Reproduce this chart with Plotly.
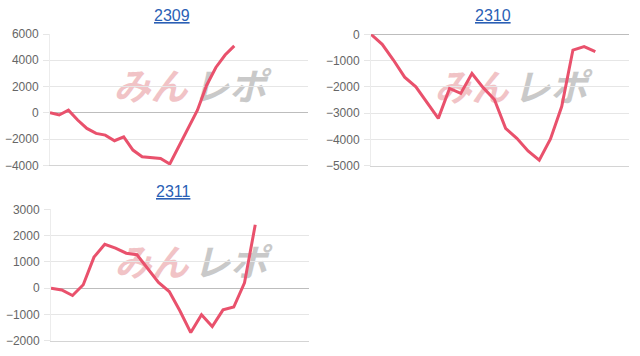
import plotly.graph_objects as go

titles = ["2309", "2310", "2311"]
s2309 = [0, -170, 200, -550, -1190, -1570, -1700, -2130, -1830, -2840, -3350,
         -3400, -3480, -3900, -2550, -1250, 200, 2100, 3450, 4400, 5100]
s2310 = [0, -380, -980, -1630, -2000, -2580, -3200, -2060, -2250, -1490, -2030,
         -2480, -3580, -3960, -4440, -4790, -3980, -2750, -600, -470, -660]
s2311 = [0, -70, -280, 130, 1180, 1670, 1520, 1330, 1270, 760, 220, -130,
         -870, -1690, -1015, -1460, -825, -720, 200, 2410]
series = [s2309, s2310, s2311]
x_max = [28, 23, 24]
y_ranges = [(-4000, 6000), (-5000, 0), (-2000, 3000)]
y_dtick = [2000, 1000, 1000]

W, H = 640, 356
# pixel boxes of plot areas: (left, right, top, bottom)
boxes = [(50, 308, 34, 165.3), (371, 629, 34.3, 165.7), (51, 309, 209.3, 340.7)]
title_pos = [(172, 15.5), (493, 15.5), (173, 191.5)]

LINE = "#e9516c"
GRID = "#e6e6e6"
FONT = "Liberation Sans"

fig = go.Figure()
shapes = []
annotations = []
for i, (vals, box) in enumerate(zip(series, boxes)):
    n = i + 1
    xa = "x" if n == 1 else f"x{n}"
    ya = "y" if n == 1 else f"y{n}"
    left, right, top, bottom = box
    fig.add_trace(go.Scatter(
        x=list(range(len(vals))), y=vals, mode="lines",
        line=dict(color=LINE, width=3), xaxis=xa, yaxis=ya,
        showlegend=False, hoverinfo="skip"))
    xkey = "xaxis" if n == 1 else f"xaxis{n}"
    ykey = "yaxis" if n == 1 else f"yaxis{n}"
    fig.layout[xkey] = dict(
        domain=[left / W, right / W], range=[0, x_max[i]], anchor=ya,
        showticklabels=False, showgrid=False, zeroline=False, automargin=False,
        showline=True, linecolor="#d4d4d4", linewidth=1, ticks="", fixedrange=True)
    fig.layout[ykey] = dict(
        domain=[1 - bottom / H, 1 - top / H], range=list(y_ranges[i]), anchor=xa,
        dtick=y_dtick[i], tick0=0, showgrid=True, gridcolor=GRID, gridwidth=1,
        zeroline=True, zerolinecolor="#bdbdbd", zerolinewidth=1, automargin=False,
        showline=True, linecolor="#ececec", linewidth=1,
        ticks="outside", ticklen=6, tickcolor=GRID, ticklabelstandoff=2,
        tickfont=dict(family=FONT, size=12, color="#666666"), fixedrange=True)
    # title
    tx, ty = title_pos[i]
    annotations.append(dict(
        x=tx / W, y=1 - ty / H, xref="paper", yref="paper", showarrow=False,
        text=f"<u>{titles[i]}</u>", xanchor="center", yanchor="middle",
        font=dict(family=FONT, size=16, color="#2a5fb5")))
    # watermark logo (below the line)
    for txt, cx, col in [("みん", 0.39, "#f1c3c6"), ("レポ", 0.695, "#c9c9c9")]:
        shapes.append(dict(
            type="rect", xref=f"{xa} domain", yref=f"{ya} domain",
            x0=cx - 0.15, x1=cx + 0.15, y0=0.47, y1=0.67,
            line=dict(width=0), fillcolor="rgba(0,0,0,0)", layer="below",
            label=dict(text=txt, textposition="middle center",
                       font=dict(family="Noto Sans CJK JP", size=37, color=col,
                                 weight="bold", style="italic"))))

fig.update_layout(
    width=W, height=H, margin=dict(l=0, r=0, t=0, b=0, autoexpand=False),
    paper_bgcolor="white", plot_bgcolor="white",
    shapes=shapes, annotations=annotations)

fig.write_html("out.html", config={"displayModeBar": False})
